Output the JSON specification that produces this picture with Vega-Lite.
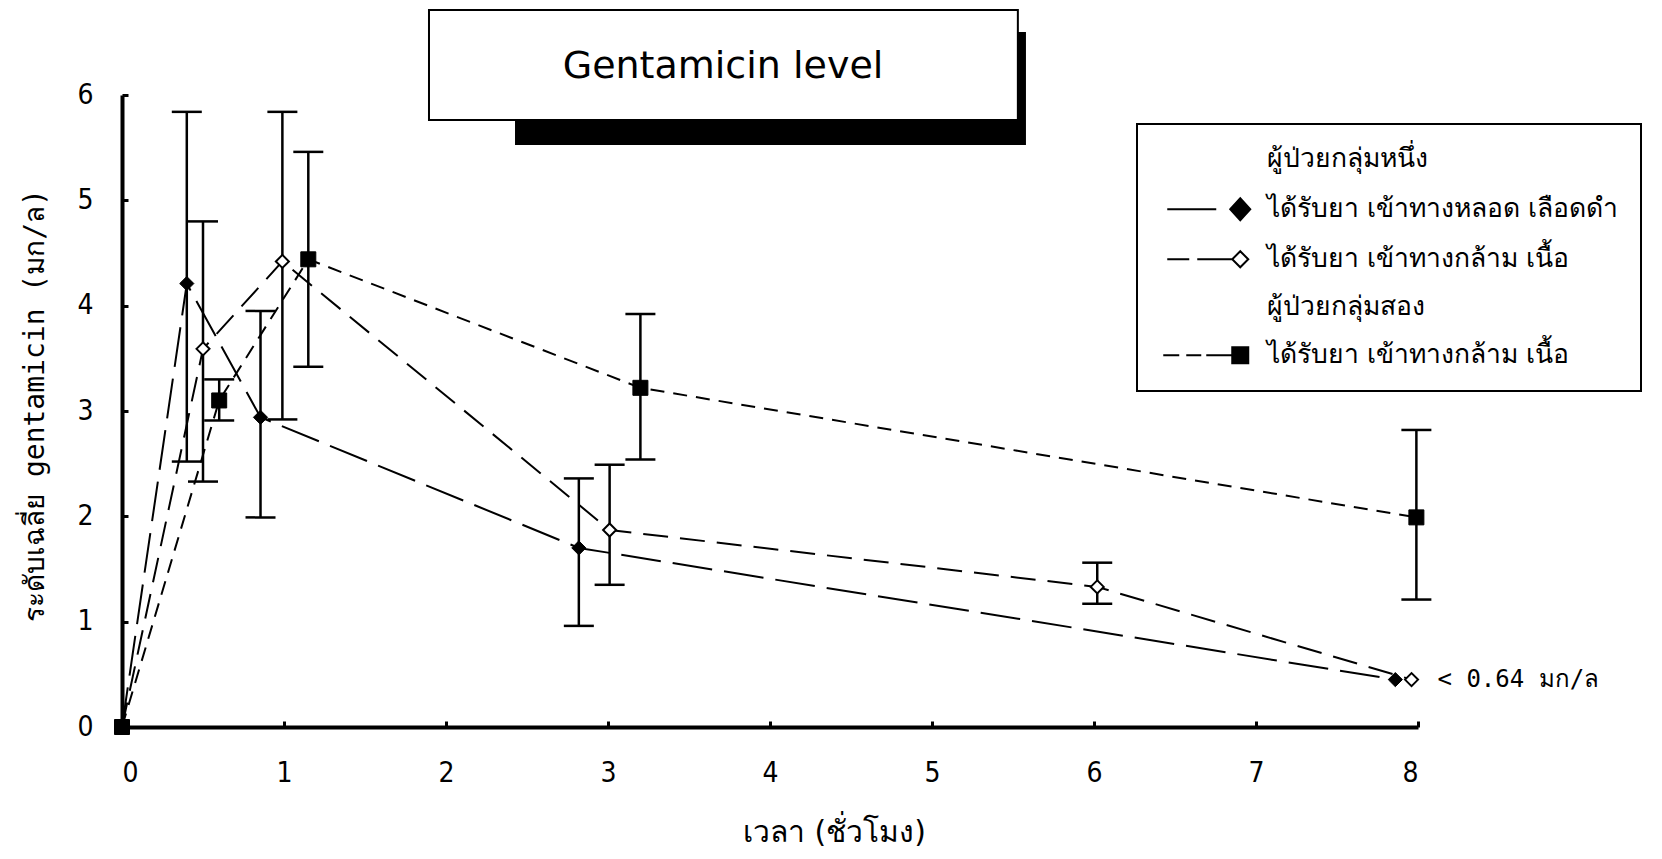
{
  "$schema": "https://vega.github.io/schema/vega-lite/v6.json",
  "width": 1296,
  "height": 632,
  "autosize": {"type": "none"},
  "padding": {"left": 122, "top": 95, "right": 244, "bottom": 132},
  "background": "white",
  "config": {
    "view": {"stroke": null},
    "font": "DejaVu Sans",
    "axis": {
      "grid": false,
      "domainColor": "black",
      "domainWidth": 4,
      "tickColor": "black",
      "tickWidth": 3,
      "tickSize": -6,
      "labelColor": "black",
      "labelFont": "DejaVu Sans Condensed, Liberation Sans",
      "labelFontSize": 28,
      "labelFontWeight": "normal",
      "titleColor": "black",
      "titleFontWeight": "normal"
    },
    "axisX": {"labelPadding": 38, "titleFont": "DejaVu Sans", "titleFontSize": 30, "titleX": 712, "titleY": 105, "titleBaseline": "middle", "titleAlign": "center"},
    "axisY": {"labelPadding": 35, "titleFont": "DejaVu Sans Mono", "titleFontSize": 28, "titleX": -87, "titleY": 310, "titleBaseline": "middle", "titleAlign": "center", "titleAngle": -90},
    "legend": {"strokeWidth": 2}
  },
  "datasets": {
    "levels": [
      {"series": "g1_iv", "t": 0, "c": 0},
      {"series": "g1_iv", "t": 0.4, "c": 4.21, "lo": 2.52, "hi": 5.84},
      {"series": "g1_iv", "t": 0.855, "c": 2.94, "lo": 1.99, "hi": 3.95},
      {"series": "g1_iv", "t": 2.82, "c": 1.7, "lo": 0.96, "hi": 2.36},
      {"series": "g1_iv", "t": 7.86, "c": 0.45},
      {"series": "g1_im", "t": 0, "c": 0},
      {"series": "g1_im", "t": 0.5, "c": 3.59, "lo": 2.33, "hi": 4.8},
      {"series": "g1_im", "t": 0.99, "c": 4.42, "lo": 2.92, "hi": 5.84},
      {"series": "g1_im", "t": 3.01, "c": 1.87, "lo": 1.35, "hi": 2.49},
      {"series": "g1_im", "t": 6.02, "c": 1.33, "lo": 1.17, "hi": 1.56},
      {"series": "g1_im", "t": 7.96, "c": 0.45},
      {"series": "g2_im", "t": 0, "c": 0},
      {"series": "g2_im", "t": 0.6, "c": 3.1, "lo": 2.91, "hi": 3.3},
      {"series": "g2_im", "t": 1.15, "c": 4.44, "lo": 3.42, "hi": 5.46},
      {"series": "g2_im", "t": 3.2, "c": 3.22, "lo": 2.54, "hi": 3.92},
      {"series": "g2_im", "t": 7.99, "c": 1.99, "lo": 1.21, "hi": 2.82}
    ],
    "notes": [
      {"t": 7.96, "c": 0.45, "note": "< 0.64 มก/ล"}
    ],
    "heading": [
      {"title": "Gentamicin level"}
    ]
  },
  "layer": [
    {
      "data": {"name": "heading"},
      "mark": {"type": "rect", "fill": "black"},
      "encoding": {
        "x": {"datum": 2.426, "type": "quantitative", "scale": {"domain": [0, 8], "nice": false, "zero": false}},
        "x2": {"datum": 5.58},
        "y": {"datum": 6.598, "type": "quantitative", "scale": {"domain": [0, 6], "nice": false}},
        "y2": {"datum": 5.525}
      }
    },
    {
      "data": {"name": "heading"},
      "mark": {"type": "rect", "fill": "white", "stroke": "black", "strokeWidth": 2},
      "encoding": {
        "x": {"datum": 1.895, "type": "quantitative"},
        "x2": {"datum": 5.53},
        "y": {"datum": 6.807, "type": "quantitative"},
        "y2": {"datum": 5.763}
      }
    },
    {
      "data": {"name": "heading"},
      "mark": {"type": "text", "font": "DejaVu Sans", "fontSize": 38, "color": "black", "align": "center", "baseline": "middle"},
      "encoding": {
        "x": {"datum": 3.71, "type": "quantitative"},
        "y": {"datum": 6.27, "type": "quantitative"},
        "text": {"field": "title", "type": "nominal"}
      }
    },
    {
      "data": {"name": "levels"},
      "mark": {"type": "line", "color": "black", "strokeWidth": 2},
      "encoding": {
        "x": {"field": "t", "type": "quantitative", "scale": {"domain": [0, 8], "nice": false, "zero": false}, "axis": {"values": [0, 1, 2, 3, 4, 5, 6, 7, 8], "format": "d"}, "title": "เวลา (ชั่วโมง)"},
        "y": {"field": "c", "type": "quantitative", "scale": {"domain": [0, 6], "nice": false}, "axis": {"values": [0, 1, 2, 3, 4, 5, 6], "format": "d"}, "title": "ระดับเฉลี่ย gentamicin (มก/ล)"},
        "detail": {"field": "series"},
        "strokeDash": {"field": "series", "type": "nominal", "scale": {"domain": ["g1_iv", "g1_im", "g2_im"], "range": [[40, 12], [25, 12], [14, 9]]}, "legend": null}
      }
    },
    {
      "data": {"name": "levels"},
      "transform": [{"filter": "isValid(datum.lo)"}],
      "mark": {"type": "rule", "color": "black", "strokeWidth": 2.5},
      "encoding": {
        "x": {"field": "t", "type": "quantitative", "title": "เวลา (ชั่วโมง)"},
        "y": {"field": "lo", "type": "quantitative", "title": "ระดับเฉลี่ย gentamicin (มก/ล)"},
        "y2": {"field": "hi"}
      }
    },
    {
      "data": {"name": "levels"},
      "transform": [{"filter": "isValid(datum.lo)"}],
      "mark": {"type": "tick", "orient": "horizontal", "color": "black", "size": 30, "thickness": 2.5, "opacity": 1},
      "encoding": {
        "x": {"field": "t", "type": "quantitative", "title": "เวลา (ชั่วโมง)"},
        "y": {"field": "lo", "type": "quantitative", "title": "ระดับเฉลี่ย gentamicin (มก/ล)"}
      }
    },
    {
      "data": {"name": "levels"},
      "transform": [{"filter": "isValid(datum.hi)"}],
      "mark": {"type": "tick", "orient": "horizontal", "color": "black", "size": 30, "thickness": 2.5, "opacity": 1},
      "encoding": {
        "x": {"field": "t", "type": "quantitative", "title": "เวลา (ชั่วโมง)"},
        "y": {"field": "hi", "type": "quantitative", "title": "ระดับเฉลี่ย gentamicin (มก/ล)"}
      }
    },
    {
      "data": {"name": "levels"},
      "transform": [{"filter": "datum.series == 'g1_iv' && datum.t > 0"}],
      "mark": {"type": "point", "shape": "diamond", "filled": true, "fill": "black", "stroke": "black", "strokeWidth": 1, "size": 200, "opacity": 1},
      "encoding": {
        "x": {"field": "t", "type": "quantitative", "title": "เวลา (ชั่วโมง)"},
        "y": {"field": "c", "type": "quantitative", "title": "ระดับเฉลี่ย gentamicin (มก/ล)"}
      }
    },
    {
      "data": {"name": "levels"},
      "transform": [{"filter": "datum.series == 'g1_im' && datum.t > 0"}],
      "mark": {"type": "point", "shape": "diamond", "filled": true, "fill": "white", "stroke": "black", "strokeWidth": 2, "size": 170, "opacity": 1},
      "encoding": {
        "x": {"field": "t", "type": "quantitative", "title": "เวลา (ชั่วโมง)"},
        "y": {"field": "c", "type": "quantitative", "title": "ระดับเฉลี่ย gentamicin (มก/ล)"}
      }
    },
    {
      "data": {"name": "levels"},
      "transform": [{"filter": "datum.series == 'g2_im'"}],
      "mark": {"type": "point", "shape": "square", "filled": true, "fill": "black", "stroke": "black", "strokeWidth": 1, "size": 225, "opacity": 1},
      "encoding": {
        "x": {"field": "t", "type": "quantitative", "title": "เวลา (ชั่วโมง)"},
        "y": {"field": "c", "type": "quantitative", "title": "ระดับเฉลี่ย gentamicin (มก/ล)"}
      }
    },
    {
      "data": {"name": "notes"},
      "mark": {"type": "text", "align": "left", "baseline": "middle", "dx": 26, "font": "DejaVu Sans Mono", "fontSize": 24, "color": "black"},
      "encoding": {
        "x": {"field": "t", "type": "quantitative", "title": "เวลา (ชั่วโมง)"},
        "y": {"field": "c", "type": "quantitative", "title": "ระดับเฉลี่ย gentamicin (มก/ล)"},
        "text": {"field": "note", "type": "nominal"}
      }
    },
    {
      "data": {"name": "levels"},
      "transform": [{"filter": "false"}],
      "mark": {"type": "point", "filled": false, "strokeWidth": 2, "size": 400, "opacity": 1},
      "encoding": {
        "x": {"field": "t", "type": "quantitative", "title": "เวลา (ชั่วโมง)"},
        "y": {"field": "c", "type": "quantitative", "title": "ระดับเฉลี่ย gentamicin (มก/ล)"},
        "shape": {
          "field": "series", "type": "nominal",
          "scale": {"domain": ["h1", "g1_iv", "g1_im", "h2", "g2_im"], "range": ["M0,0", "M-7.3,0H-2.4M-1,0L0,-1.1L1,0L0,1.1Z", "M-7.3,0H-5.1M-4.3,0H-0.8M-0.8,0L0,-0.8L0.8,0L0,0.8Z", "M0,0", "M-7.7,0H-6.1M-5.4,0H-3.9M-3.4,0H-0.8M-0.8,-0.8H0.8V0.8H-0.8Z"]},
          "legend": {"title": null, "orient": "none", "legendX": 1015, "legendY": 29, "padding": 22, "strokeColor": "black", "fillColor": "white", "labelFont": "DejaVu Sans", "labelFontSize": 26.5, "labelColor": "black", "labelOffset": 13, "symbolOffset": 68, "symbolSize": 400, "symbolStrokeColor": "black", "symbolStrokeWidth": 2, "rowPadding": 21, "labelLimit": 600,
            "labelExpr": "datum.value == 'h1' ? 'ผู้ป่วยกลุ่มหนึ่ง' : datum.value == 'g1_iv' ? 'ได้รับยา เข้าทางหลอด เลือดดำ' : datum.value == 'h2' ? 'ผู้ป่วยกลุ่มสอง' : 'ได้รับยา เข้าทางกล้าม เนื้อ'"}
        },
        "fill": {
          "field": "series", "type": "nominal",
          "scale": {"domain": ["h1", "g1_iv", "g1_im", "h2", "g2_im"], "range": ["transparent", "black", "white", "transparent", "black"]},
          "legend": {"title": null, "orient": "none", "legendX": 1015, "legendY": 29, "padding": 22, "strokeColor": "black", "fillColor": "white", "labelFont": "DejaVu Sans", "labelFontSize": 26.5, "labelColor": "black", "labelOffset": 13, "symbolOffset": 68, "symbolSize": 400, "symbolStrokeColor": "black", "symbolStrokeWidth": 2, "rowPadding": 21, "labelLimit": 600,
            "labelExpr": "datum.value == 'h1' ? 'ผู้ป่วยกลุ่มหนึ่ง' : datum.value == 'g1_iv' ? 'ได้รับยา เข้าทางหลอด เลือดดำ' : datum.value == 'h2' ? 'ผู้ป่วยกลุ่มสอง' : 'ได้รับยา เข้าทางกล้าม เนื้อ'"}
        },
        "stroke": {
          "field": "series", "type": "nominal",
          "scale": {"domain": ["h1", "g1_iv", "g1_im", "h2", "g2_im"], "range": ["black", "black", "black", "black", "black"]},
          "legend": {"title": null, "orient": "none", "legendX": 1015, "legendY": 29, "padding": 22, "strokeColor": "black", "fillColor": "white", "labelFont": "DejaVu Sans", "labelFontSize": 26.5, "labelColor": "black", "labelOffset": 13, "symbolOffset": 68, "symbolSize": 400, "symbolStrokeColor": "black", "symbolStrokeWidth": 2, "rowPadding": 21, "labelLimit": 600,
            "labelExpr": "datum.value == 'h1' ? 'ผู้ป่วยกลุ่มหนึ่ง' : datum.value == 'g1_iv' ? 'ได้รับยา เข้าทางหลอด เลือดดำ' : datum.value == 'h2' ? 'ผู้ป่วยกลุ่มสอง' : 'ได้รับยา เข้าทางกล้าม เนื้อ'"}
        }
      }
    }
  ]
}
